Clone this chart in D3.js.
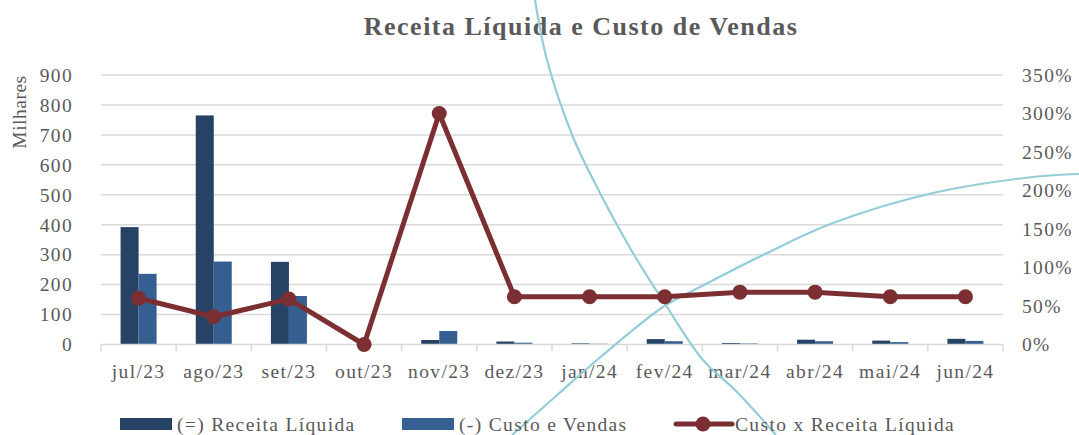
<!DOCTYPE html>
<html><head><meta charset="utf-8">
<script src="https://cdn.jsdelivr.net/npm/d3@7"></script>
<style>
html,body{margin:0;padding:0;background:#fff;}
svg text{font-family:"Liberation Serif","Times New Roman",serif;fill:#595959;}
</style></head>
<body><svg id="chart" width="1079" height="435"></svg>
<script>
const categories = ["jul/23","ago/23","set/23","out/23","nov/23","dez/23","jan/24","fev/24","mar/24","abr/24","mai/24","jun/24"];
const receitaLiquida = [392, 765, 276, 0, 15, 10, 4, 18, 5, 16, 13, 19];
const custoVendas = [236, 277, 162, 0, 45, 6, 2.5, 11, 3.4, 11, 8, 12];
const custoXReceita = [0.60, 0.36, 0.59, 0.00, 3.00, 0.62, 0.62, 0.62, 0.68, 0.68, 0.62, 0.62];
const leftTicks = [0,100,200,300,400,500,600,700,800,900];
const rightTicks = [0,0.5,1,1.5,2,2.5,3,3.5];
const seriesNames = ["(=) Receita Líquida","(-) Custo e Vendas","Custo x Receita Líquida"];
const titleText = "Receita Líquida e Custo de Vendas";
const yAxisTitle = "Milhares";

const svg = d3.select("#chart");
const L = 101, R = 1003, T = 75, B = 344.5;
const colRec = "#264366", colCus = "#365f91", colLine = "#7c2f33", grid = "#d9d9d9";

const x = d3.scaleBand().domain(categories).range([L, R]);
const yL = d3.scaleLinear().domain([0, 900]).range([B, T]);
const yR = d3.scaleLinear().domain([0, 3.5]).range([B, T]);

// gridlines
svg.append("g").selectAll("line").data(leftTicks.filter(d => d > 0)).join("line")
  .attr("x1", L).attr("x2", R).attr("y1", d => yL(d)).attr("y2", d => yL(d))
  .attr("stroke", grid).attr("stroke-width", 1.5);

// title
svg.append("text").attr("x", 581).attr("y", 35).attr("text-anchor", "middle")
  .style("font-size", "26px").style("font-weight", "bold").style("letter-spacing", "1.5px")
  .text(titleText);

// left axis
const fs = "19.5px", ls = "1.35px";
svg.append("g").selectAll("text").data(leftTicks).join("text")
  .attr("x", 73).attr("y", d => yL(d)).attr("dy", "0.35em").attr("text-anchor", "end")
  .style("font-size", fs).style("letter-spacing", ls).text(d => d);
svg.append("text").attr("transform", "translate(26,112) rotate(-90)").attr("text-anchor", "middle")
  .style("font-size", fs).style("letter-spacing", "0.5px").text(yAxisTitle);

// right axis
svg.append("g").selectAll("text").data(rightTicks).join("text")
  .attr("x", 1022).attr("y", d => yR(d)).attr("dy", "0.35em").attr("text-anchor", "start")
  .style("font-size", fs).style("letter-spacing", ls).text(d => d3.format(".0%")(d));

// bars
const bw = 18;
svg.append("g").selectAll("rect").data(categories).join("rect")
  .attr("x", d => x(d) + x.bandwidth()/2 - bw).attr("width", bw)
  .attr("y", (d,i) => yL(receitaLiquida[i])).attr("height", (d,i) => B - yL(receitaLiquida[i]))
  .attr("fill", colRec);
svg.append("g").selectAll("rect").data(categories).join("rect")
  .attr("x", d => x(d) + x.bandwidth()/2).attr("width", bw)
  .attr("y", (d,i) => yL(custoVendas[i])).attr("height", (d,i) => B - yL(custoVendas[i]))
  .attr("fill", colCus);

// x axis
svg.append("line").attr("x1", L).attr("x2", R).attr("y1", B).attr("y2", B).attr("stroke", grid).attr("stroke-width", 1.5);
const bounds = categories.map(d => x(d)).concat([R]);
svg.append("g").selectAll("line").data(bounds).join("line")
  .attr("x1", d => d).attr("x2", d => d).attr("y1", B).attr("y2", B + 7)
  .attr("stroke", grid).attr("stroke-width", 1.5);
svg.append("g").selectAll("text").data(categories).join("text")
  .attr("x", d => x(d) + x.bandwidth()/2).attr("y", 378).attr("text-anchor", "middle")
  .style("font-size", fs).style("letter-spacing", ls).text(d => d);

// decorative curves
const decorCurveA = [[535,0],[547,60],[573,137],[600,193],[633,253],[667,307],[703,360],[737,392],[776,435]];
const decorCurveB = [[512,435],[555,397],[597,360],[663,307],[700,287],[767,253],[833,223],[933,193],[1033,177],[1079,174]];
const dl = d3.line().curve(d3.curveCatmullRom);
[decorCurveA, decorCurveB].forEach(c => svg.append("path").attr("d", dl(c))
  .attr("fill", "none").attr("stroke", "#93cdd6").attr("stroke-width", 2.2));

// line series
const line = d3.line().x((d,i) => x(categories[i]) + x.bandwidth()/2).y(d => yR(d));
svg.append("path").datum(custoXReceita).attr("d", line).attr("fill", "none")
  .attr("stroke", colLine).attr("stroke-width", 5).attr("stroke-linejoin", "round");
svg.append("g").selectAll("circle").data(custoXReceita).join("circle")
  .attr("cx", (d,i) => x(categories[i]) + x.bandwidth()/2).attr("cy", d => yR(d))
  .attr("r", 7.5).attr("fill", colLine);

// legend
const lg = svg.append("g");
const ly = 424;
lg.append("rect").attr("x", 120).attr("y", ly - 6).attr("width", 52).attr("height", 12).attr("fill", colRec);
lg.append("text").attr("x", 177).attr("y", ly).attr("dy", "0.35em").style("font-size", fs).style("letter-spacing", ls).text(seriesNames[0]);
lg.append("rect").attr("x", 402).attr("y", ly - 6).attr("width", 52).attr("height", 12).attr("fill", colCus);
lg.append("text").attr("x", 459).attr("y", ly).attr("dy", "0.35em").style("font-size", fs).style("letter-spacing", ls).text(seriesNames[1]);
lg.append("line").attr("x1", 676).attr("x2", 732).attr("y1", ly).attr("y2", ly).attr("stroke", colLine).attr("stroke-width", 5).attr("stroke-linecap", "round");
lg.append("circle").attr("cx", 703).attr("cy", ly).attr("r", 7.5).attr("fill", colLine);
lg.append("text").attr("x", 735).attr("y", ly).attr("dy", "0.35em").style("font-size", fs).style("letter-spacing", ls).text(seriesNames[2]);
</script></body></html>
